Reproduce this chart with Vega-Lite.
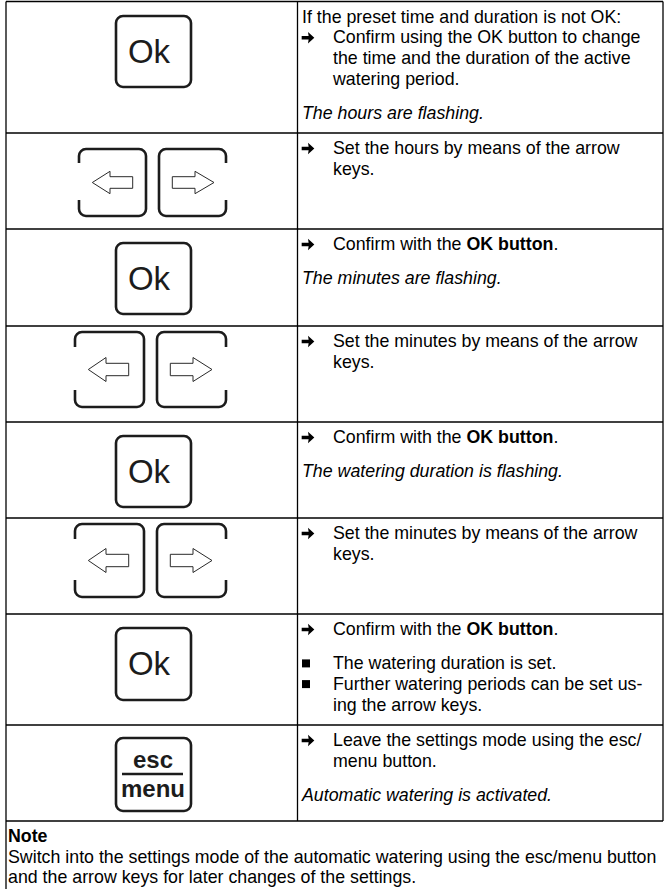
{
  "$schema": "https://vega.github.io/schema/vega-lite/v6.json",
  "width": 664,
  "height": 889,
  "padding": 0,
  "autosize": {"type": "none"},
  "background": "white",
  "config": {"view": {"stroke": null}},
  "datasets": {
    "grid": [
      {"x": 6, "x2": 663, "y": 1.5, "y2": 1.5},
      {"x": 6, "x2": 663, "y": 133, "y2": 133},
      {"x": 6, "x2": 663, "y": 229, "y2": 229},
      {"x": 6, "x2": 663, "y": 326, "y2": 326},
      {"x": 6, "x2": 663, "y": 422, "y2": 422},
      {"x": 6, "x2": 663, "y": 518, "y2": 518},
      {"x": 6, "x2": 663, "y": 614, "y2": 614},
      {"x": 6, "x2": 663, "y": 725, "y2": 725},
      {"x": 6, "x2": 663, "y": 821, "y2": 821},
      {"x": 6, "x2": 6, "y": 1.5, "y2": 889},
      {"x": 297.5, "x2": 297.5, "y": 1.5, "y2": 821},
      {"x": 663, "x2": 663, "y": 1.5, "y2": 821}
    ],
    "okKeys": [
      {"x": 116, "x2": 191, "y": 16, "y2": 87},
      {"x": 116, "x2": 191, "y": 243, "y2": 314},
      {"x": 116, "x2": 191, "y": 436, "y2": 507},
      {"x": 116, "x2": 191, "y": 628, "y2": 700},
      {"x": 116, "x2": 191, "y": 738, "y2": 811}
    ],
    "okLabels": [
      {"x": 149, "y": 63, "t": "Ok"},
      {"x": 149, "y": 290, "t": "Ok"},
      {"x": 149, "y": 483, "t": "Ok"},
      {"x": 149, "y": 675, "t": "Ok"}
    ],
    "escLabels": [
      {"x": 153, "y": 768, "t": "esc"},
      {"x": 153, "y": 797, "t": "menu"}
    ],
    "escBar": [
      {"x": 122, "x2": 183, "y": 774, "y2": 774}
    ],
    "arrowKeys": [
      {"x": 79, "x2": 146, "y": 149, "y2": 216},
      {"x": 159, "x2": 226, "y": 149, "y2": 216},
      {"x": 75, "x2": 144, "y": 332, "y2": 407},
      {"x": 157, "x2": 226, "y": 332, "y2": 407},
      {"x": 75, "x2": 144, "y": 524, "y2": 597},
      {"x": 157, "x2": 226, "y": 524, "y2": 597}
    ],
    "gaps": [
      {"x": 75.5, "x2": 82.5, "y": 163, "y2": 200},
      {"x": 222.5, "x2": 229.5, "y": 163, "y2": 200},
      {"x": 71.5, "x2": 78.5, "y": 347, "y2": 390},
      {"x": 222.5, "x2": 229.5, "y": 347, "y2": 390},
      {"x": 71.5, "x2": 78.5, "y": 539, "y2": 580},
      {"x": 222.5, "x2": 229.5, "y": 539, "y2": 580}
    ],
    "arrows": [
      {"id": "L2", "o": 1, "x": 92.3, "y": 182.5},
      {"id": "L2", "o": 2, "x": 110, "y": 171.3},
      {"id": "L2", "o": 3, "x": 110, "y": 176.7},
      {"id": "L2", "o": 4, "x": 132.7, "y": 176.7},
      {"id": "L2", "o": 5, "x": 132.7, "y": 188.3},
      {"id": "L2", "o": 6, "x": 110, "y": 188.3},
      {"id": "L2", "o": 7, "x": 110, "y": 193.7},
      {"id": "L2", "o": 8, "x": 92.3, "y": 182.5},
      {"id": "R2", "o": 1, "x": 172.3, "y": 176.7},
      {"id": "R2", "o": 2, "x": 195, "y": 176.7},
      {"id": "R2", "o": 3, "x": 195, "y": 171.3},
      {"id": "R2", "o": 4, "x": 214, "y": 182.5},
      {"id": "R2", "o": 5, "x": 195, "y": 193.7},
      {"id": "R2", "o": 6, "x": 195, "y": 188.3},
      {"id": "R2", "o": 7, "x": 172.3, "y": 188.3},
      {"id": "R2", "o": 8, "x": 172.3, "y": 176.7},
      {"id": "L4", "o": 1, "x": 88.3, "y": 369.5},
      {"id": "L4", "o": 2, "x": 106, "y": 357.5},
      {"id": "L4", "o": 3, "x": 106, "y": 363.3},
      {"id": "L4", "o": 4, "x": 128.7, "y": 363.3},
      {"id": "L4", "o": 5, "x": 128.7, "y": 375.7},
      {"id": "L4", "o": 6, "x": 106, "y": 375.7},
      {"id": "L4", "o": 7, "x": 106, "y": 381.5},
      {"id": "L4", "o": 8, "x": 88.3, "y": 369.5},
      {"id": "R4", "o": 1, "x": 170.3, "y": 363.3},
      {"id": "R4", "o": 2, "x": 193, "y": 363.3},
      {"id": "R4", "o": 3, "x": 193, "y": 357.5},
      {"id": "R4", "o": 4, "x": 212, "y": 369.5},
      {"id": "R4", "o": 5, "x": 193, "y": 381.5},
      {"id": "R4", "o": 6, "x": 193, "y": 375.7},
      {"id": "R4", "o": 7, "x": 170.3, "y": 375.7},
      {"id": "R4", "o": 8, "x": 170.3, "y": 363.3},
      {"id": "L6", "o": 1, "x": 88.3, "y": 560.5},
      {"id": "L6", "o": 2, "x": 106, "y": 548.5},
      {"id": "L6", "o": 3, "x": 106, "y": 554.3},
      {"id": "L6", "o": 4, "x": 128.7, "y": 554.3},
      {"id": "L6", "o": 5, "x": 128.7, "y": 566.7},
      {"id": "L6", "o": 6, "x": 106, "y": 566.7},
      {"id": "L6", "o": 7, "x": 106, "y": 572.5},
      {"id": "L6", "o": 8, "x": 88.3, "y": 560.5},
      {"id": "R6", "o": 1, "x": 170.3, "y": 554.3},
      {"id": "R6", "o": 2, "x": 193, "y": 554.3},
      {"id": "R6", "o": 3, "x": 193, "y": 548.5},
      {"id": "R6", "o": 4, "x": 212, "y": 560.5},
      {"id": "R6", "o": 5, "x": 193, "y": 572.5},
      {"id": "R6", "o": 6, "x": 193, "y": 566.7},
      {"id": "R6", "o": 7, "x": 170.3, "y": 566.7},
      {"id": "R6", "o": 8, "x": 170.3, "y": 554.3}
    ],
    "texts": [
      {"kind": "plain", "x": 302, "y": 22.5, "t": "If the preset time and duration is not OK:"},
      {"kind": "plain", "x": 333, "y": 43.2, "t": "Confirm using the OK button to change"},
      {"kind": "plain", "x": 333, "y": 63.9, "t": "the time and the duration of the active"},
      {"kind": "plain", "x": 333, "y": 84.6, "t": "watering period."},
      {"kind": "italic", "x": 302, "y": 119, "t": "The hours are flashing."},
      {"kind": "plain", "x": 333, "y": 154, "t": "Set the hours by means of the arrow"},
      {"kind": "plain", "x": 333, "y": 174.7, "t": "keys."},
      {"kind": "plain", "x": 333, "y": 250, "t": "Confirm with the"},
      {"kind": "bold", "x": 466.5, "y": 250, "t": "OK button"},
      {"kind": "plain", "x": 553.5, "y": 250, "t": "."},
      {"kind": "italic", "x": 302, "y": 284.4, "t": "The minutes are flashing."},
      {"kind": "plain", "x": 333, "y": 347, "t": "Set the minutes by means of the arrow"},
      {"kind": "plain", "x": 333, "y": 367.7, "t": "keys."},
      {"kind": "plain", "x": 333, "y": 443, "t": "Confirm with the"},
      {"kind": "bold", "x": 466.5, "y": 443, "t": "OK button"},
      {"kind": "plain", "x": 553.5, "y": 443, "t": "."},
      {"kind": "italic", "x": 302, "y": 477.4, "t": "The watering duration is flashing."},
      {"kind": "plain", "x": 333, "y": 539, "t": "Set the minutes by means of the arrow"},
      {"kind": "plain", "x": 333, "y": 559.7, "t": "keys."},
      {"kind": "plain", "x": 333, "y": 635, "t": "Confirm with the"},
      {"kind": "bold", "x": 466.5, "y": 635, "t": "OK button"},
      {"kind": "plain", "x": 553.5, "y": 635, "t": "."},
      {"kind": "plain", "x": 333, "y": 669.4, "t": "The watering duration is set."},
      {"kind": "plain", "x": 333, "y": 690.1, "t": "Further watering periods can be set us-"},
      {"kind": "plain", "x": 333, "y": 710.8, "t": "ing the arrow keys."},
      {"kind": "plain", "x": 333, "y": 746, "t": "Leave the settings mode using the esc/"},
      {"kind": "plain", "x": 333, "y": 766.7, "t": "menu button."},
      {"kind": "italic", "x": 302, "y": 801.1, "t": "Automatic watering is activated."},
      {"kind": "bold", "x": 8, "y": 842, "t": "Note"},
      {"kind": "plain", "x": 8, "y": 862.7, "t": "Switch into the settings mode of the automatic watering using the esc/menu button"},
      {"kind": "plain", "x": 8, "y": 883.4, "t": "and the arrow keys for later changes of the settings."}
    ],
    "markers": [
      {"kind": "arrow", "x": 308, "y": 37.7},
      {"kind": "arrow", "x": 308, "y": 148.5},
      {"kind": "arrow", "x": 308, "y": 244.5},
      {"kind": "arrow", "x": 308, "y": 341.5},
      {"kind": "arrow", "x": 308, "y": 437.5},
      {"kind": "arrow", "x": 308, "y": 533.5},
      {"kind": "arrow", "x": 308, "y": 629.5},
      {"kind": "arrow", "x": 308, "y": 740.5},
      {"kind": "square", "x": 306, "y": 663.4},
      {"kind": "square", "x": 306, "y": 684.1}
    ]
  },
  "encoding": {
    "x": {"field": "x", "type": "quantitative", "scale": {"domain": [0, 664], "nice": false, "zero": false}, "axis": null},
    "y": {"field": "y", "type": "quantitative", "scale": {"domain": [0, 889], "nice": false, "zero": false, "reverse": true}, "axis": null}
  },
  "layer": [
    {
      "data": {"name": "grid"},
      "mark": {"type": "rule", "color": "black", "strokeWidth": 1.3},
      "encoding": {"x2": {"field": "x2"}, "y2": {"field": "y2"}}
    },
    {
      "data": {"name": "okKeys"},
      "mark": {"type": "rect", "fill": "transparent", "stroke": "#1c1c1c", "strokeWidth": 2.6, "cornerRadius": 7},
      "encoding": {"x2": {"field": "x2"}, "y2": {"field": "y2"}}
    },
    {
      "data": {"name": "arrowKeys"},
      "mark": {"type": "rect", "fill": "transparent", "stroke": "#1c1c1c", "strokeWidth": 2.6, "cornerRadius": 7},
      "encoding": {"x2": {"field": "x2"}, "y2": {"field": "y2"}}
    },
    {
      "data": {"name": "gaps"},
      "mark": {"type": "rect", "fill": "white", "strokeWidth": 0},
      "encoding": {"x2": {"field": "x2"}, "y2": {"field": "y2"}}
    },
    {
      "data": {"name": "arrows"},
      "mark": {"type": "line", "color": "#2a2a2a", "strokeWidth": 1, "strokeJoin": "miter"},
      "encoding": {"order": {"field": "o", "type": "quantitative"}, "detail": {"field": "id", "type": "nominal"}}
    },
    {
      "data": {"name": "escBar"},
      "mark": {"type": "rule", "color": "#1c1c1c", "strokeWidth": 2.6},
      "encoding": {"x2": {"field": "x2"}, "y2": {"field": "y2"}}
    },
    {
      "data": {"name": "okLabels"},
      "mark": {"type": "text", "align": "center", "baseline": "alphabetic", "font": "Liberation Sans", "fontSize": 33, "color": "#1c1c1c"},
      "encoding": {"text": {"field": "t"}}
    },
    {
      "data": {"name": "escLabels"},
      "mark": {"type": "text", "align": "center", "baseline": "alphabetic", "font": "Liberation Sans", "fontSize": 24, "fontWeight": "bold", "color": "#1c1c1c"},
      "encoding": {"text": {"field": "t"}}
    },
    {
      "data": {"name": "texts"},
      "transform": [{"filter": "datum.kind === 'plain'"}],
      "mark": {"type": "text", "align": "left", "baseline": "alphabetic", "font": "Liberation Sans", "fontSize": 17.8, "color": "black"},
      "encoding": {"text": {"field": "t"}}
    },
    {
      "data": {"name": "texts"},
      "transform": [{"filter": "datum.kind === 'bold'"}],
      "mark": {"type": "text", "align": "left", "baseline": "alphabetic", "font": "Liberation Sans", "fontSize": 17.8, "fontWeight": "bold", "color": "black"},
      "encoding": {"text": {"field": "t"}}
    },
    {
      "data": {"name": "texts"},
      "transform": [{"filter": "datum.kind === 'italic'"}],
      "mark": {"type": "text", "align": "left", "baseline": "alphabetic", "font": "Liberation Sans", "fontSize": 17.8, "fontStyle": "italic", "color": "black"},
      "encoding": {"text": {"field": "t"}}
    },
    {
      "data": {"name": "markers"},
      "transform": [{"filter": "datum.kind === 'arrow'"}],
      "mark": {"type": "point", "shape": "M-1,-0.28 L0.1,-0.28 L0,-0.9 L1,0 L0,0.9 L0.1,0.28 L-1,0.28 Z", "filled": true, "size": 160, "color": "black", "opacity": 1, "strokeWidth": 0}
    },
    {
      "data": {"name": "markers"},
      "transform": [{"filter": "datum.kind === 'square'"}],
      "mark": {"type": "point", "shape": "square", "filled": true, "size": 64, "color": "black", "opacity": 1, "strokeWidth": 0}
    }
  ]
}
